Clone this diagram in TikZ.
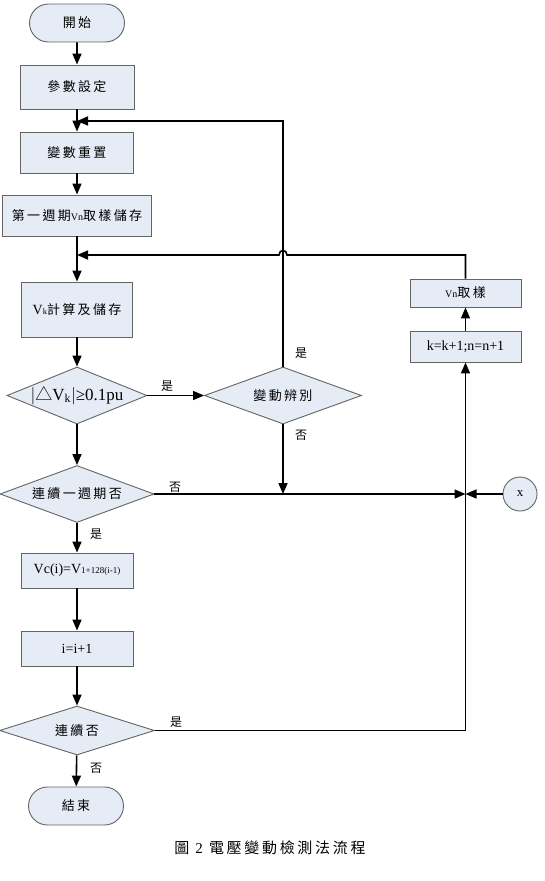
\documentclass[tikz,border=0pt]{standalone}
\usepackage{fontspec}
\setmainfont{Liberation Serif}
\newfontfamily\cjk[LetterSpace=18]{Noto Sans CJK TC}
\newfontfamily\cjkplain{Noto Sans CJK TC}
\usetikzlibrary{arrows.meta,shapes.geometric,shapes.misc}
\definecolor{boxfill}{RGB}{230,236,246}
\definecolor{boxline}{RGB}{100,100,100}
\begin{document}
\begin{tikzpicture}[x=1pt,y=-1pt,
  every node/.style={inner sep=0pt},
  base/.style={draw=boxline, fill=boxfill, line width=0.9pt},
  stepbox/.style={base, rectangle, font=\cjk\fontsize{13}{13}\selectfont},
  termbox/.style={base, rounded rectangle, minimum width=95pt, minimum height=38pt, font=\cjk\fontsize{13}{13}\selectfont},
  decision/.style={base, diamond, aspect=2.5, font=\cjk\fontsize{13}{13}\selectfont},
  conn/.style={line width=1.6pt, draw=black},
  arr/.style={conn, -{Triangle[length=11pt,width=9pt]}},
  lbl/.style={font=\cjkplain\fontsize{12}{12}\selectfont},
  sm/.style={font=\fontsize{9}{9}\selectfont}
]
\useasboundingbox (0,0) rectangle (544,881);

% main column
\node[termbox] (start) at (77,23) {開始};
\node[stepbox, minimum width=114pt, minimum height=44pt] (param) at (77,87) {參數設定};
\node[stepbox, minimum width=113pt, minimum height=41pt] (reset) at (77,152.5) {變數重置};
\node[stepbox, minimum width=149pt, minimum height=41pt] (first) at (77,215.5) {第一週期{\rmfamily\fontsize{10}{10}\selectfont Vn}取樣儲存};
\node[stepbox, minimum width=111pt, minimum height=55pt] (vk) at (77,309.5) {{\rmfamily\fontsize{14}{14}\selectfont V{\fontsize{8.5}{8.5}\selectfont k}}計算及儲存};
\node[decision, minimum width=140pt, minimum height=57pt, font=\rmfamily\fontsize{17}{17}\selectfont] (d1) at (77,395.5) {$|${\cjkplain △}V\textsubscript{k}$|$≥0.1pu};
\node[decision, minimum width=157pt, minimum height=57pt] (d2) at (283,395.5) {變動辨別};
\node[decision, minimum width=154pt, minimum height=57pt] (d3) at (77,494) {連續一週期否};
\node[stepbox, minimum width=112pt, minimum height=35pt, font=\rmfamily\fontsize{14}{14}\selectfont] (vc) at (77,570.5) {Vc(i)=V{\fontsize{9}{9}\selectfont 1+128(i-1)}};
\node[stepbox, minimum width=112pt, minimum height=35pt, font=\rmfamily\fontsize{14}{14}\selectfont] (inc) at (77,648.5) {i=i+1};
\node[decision, minimum width=155pt, minimum height=49pt] (d4) at (77,730.5) {連續否};
\node[termbox] (stop) at (76,806) {結束};

% right column
\node[stepbox, minimum width=111pt, minimum height=28pt] (vn) at (465.5,293) {{\rmfamily\fontsize{10}{10}\selectfont Vn}取樣};
\node[stepbox, minimum width=111pt, minimum height=31pt, font=\rmfamily\fontsize{14}{14}\selectfont] (kn) at (465.5,346.5) {k=k+1;n=n+1};
\node[base, circle, minimum size=34pt, font=\rmfamily\fontsize{13}{13}\selectfont] (xc) at (520,494) {x};

% junction coordinates
\coordinate (m1) at (77,121);
\coordinate (m2) at (77,255);
\coordinate (jd2) at (283,494);
\coordinate (jx) at (465.5,494);
\coordinate (cr) at (465.5,730.5);

% main flow
\draw[arr] (start) -- (param);
\draw[arr] (param) -- (reset);
\draw[arr] (reset) -- (first);
\draw[arr] (first) -- (vk);
\draw[arr] (vk) -- (d1);
\draw[arr] (d1) -- (d3);
\draw[arr] (d3) -- (vc);
\draw[arr] (vc) -- (inc);
\draw[arr] (inc) -- (d4);
\draw[arr] (d4) -- (stop);
\draw[arr] (d1) -- (d2);

% feedback from d2 (yes) to reset
\draw[arr] (d2.north) |- (m1);
% d2 no
\draw[arr] (d2.south) -- (jd2);
% d3 no
\draw[arr] (d3.east) -- (jx);
\draw[arr] (xc.west) -- (jx);
% d4 yes to k box
\draw[conn] (d4.east) -- (cr);
\draw[arr] (cr) -- (kn.south);
\draw[arr] (kn.north) -- (vn.south);
% Vn feedback with hop
\draw[arr] (vn.north) -- (vn.north |- m2) -- (287,255) .. controls (287,249) and (279,249) .. (279,255) -- (m2);

% labels
\node[lbl] (l1) at (167,386) {是};
\node[lbl] (l2) at (301,353) {是};
\node[lbl] (l3) at (301,435) {否};
\node[lbl] (l4) at (175,487) {否};
\node[lbl] (l5) at (96,534) {是};
\node[lbl] (l6) at (176,722) {是};
\node[lbl] (l7) at (96,768) {否};

% caption
\node[font=\cjk\fontsize{15}{15}\selectfont] (cap) at (270,848) {圖 {\rmfamily 2} 電壓變動檢測法流程};
\end{tikzpicture}
\end{document}
